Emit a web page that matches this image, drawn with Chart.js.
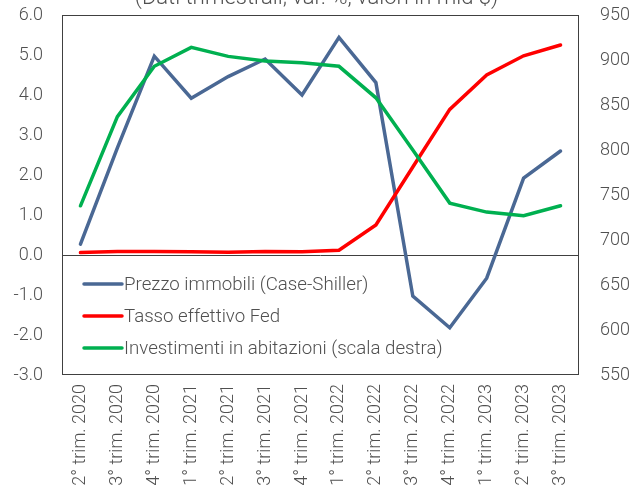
<!DOCTYPE html>
<html><head><meta charset="utf-8">
<script src="https://cdn.jsdelivr.net/npm/chart.js@4/dist/chart.umd.min.js"></script>
<style>html,body{margin:0;padding:0;background:#fff}#wrap{width:642px;height:485px}</style>
</head><body><div id="wrap"><canvas id="c" width="642" height="485"></canvas></div>
<script>
const titleText = "(Dati trimestrali; var. %, valori in mld $)";
const categories = ["2° trim. 2020","3° trim. 2020","4° trim. 2020","1° trim. 2021","2° trim. 2021","3° trim. 2021","4° trim. 2021","1° trim. 2022","2° trim. 2022","3° trim. 2022","4° trim. 2022","1° trim. 2023","2° trim. 2023","3° trim. 2023"];
const seriesNames = ["Prezzo immobili (Case-Shiller)","Tasso effettivo Fed","Investimenti in abitazioni (scala destra)"];
const prezzoImmobili = [0.27, 2.68, 4.97, 3.92, 4.46, 4.90, 4.00, 5.44, 4.31, -1.03, -1.82, -0.58, 1.92, 2.60];
const tassoFed = [0.06, 0.09, 0.09, 0.08, 0.07, 0.09, 0.08, 0.12, 0.75, 2.20, 3.64, 4.50, 4.98, 5.25];
const investimenti = [738, 837, 893, 914, 904, 899, 897, 893, 858, 800, 741, 731, 727, 738];
const leftTicks = {min: -3, max: 6, step: 1};
const rightTicks = {min: 550, max: 950, step: 50};

const colors = ["#4A6894", "#FF0000", "#00B050"];
const axisColor = "#404040";
const textColor = "#505050";
const font = {family: "Roboto", size: 18, weight: "300"};

const frame = {
  id: "frame",
  afterDraw(chart) {
    const {ctx, chartArea: a} = chart;
    ctx.save();
    ctx.strokeStyle = axisColor;
    ctx.lineWidth = 1;
    ctx.strokeRect(a.left + 0.5, a.top + 0.5, a.right - a.left - 1, a.bottom - a.top - 1);
    ctx.fillStyle = textColor;
    ctx.font = "300 22px Roboto";
    ctx.textAlign = "center";
    ctx.textBaseline = "alphabetic";
    ctx.fillText(titleText, 316.5, 4);
    ctx.textAlign = "left";
    ctx.textBaseline = "middle";
    ctx.font = "300 18.7px Roboto";
    const ys = [284, 316, 348];
    chart.data.datasets.forEach((ds, i) => {
      ctx.strokeStyle = ds.borderColor;
      ctx.lineWidth = 3.5;
      ctx.lineCap = "round";
      ctx.beginPath();
      ctx.moveTo(84, ys[i]);
      ctx.lineTo(122, ys[i]);
      ctx.stroke();
      ctx.fillStyle = textColor;
      ctx.fillText(ds.label, 124, ys[i] + 1);
    });
    ctx.restore();
  }
};

function noPad(s) { s.paddingTop = 0; s.paddingBottom = 0; s.paddingLeft = 0; s.paddingRight = 0; }

new Chart(document.getElementById("c"), {
  type: "line",
  data: {
    labels: categories,
    datasets: [
      {label: seriesNames[0], data: prezzoImmobili, yAxisID: "y", borderColor: colors[0], order: 3},
      {label: seriesNames[1], data: tassoFed, yAxisID: "y", borderColor: colors[1], order: 2},
      {label: seriesNames[2], data: investimenti, yAxisID: "y1", borderColor: colors[2], order: 1}
    ].map(d => Object.assign(d, {borderWidth: 3.5, pointRadius: 0, tension: 0, fill: false, borderCapStyle: "round"}))
  },
  options: {
    responsive: false,
    animation: false,
    devicePixelRatio: 1,
    layout: {padding: {top: 15, left: 0, right: 0, bottom: 0}},
    plugins: {legend: {display: false}, tooltip: {enabled: false}, title: {display: false}},
    scales: {
      x: {
        offset: true,
        grid: {display: false, drawTicks: false},
        border: {display: false},
        ticks: {font, color: textColor, minRotation: 90, maxRotation: 90, padding: 9, autoSkip: false},
        afterFit(s) { s.height = 110; noPad(s); }
      },
      y: {
        position: "left",
        min: leftTicks.min, max: leftTicks.max,
        grid: {drawTicks: false, drawOnChartArea: true, color: c => c.tick && c.tick.value === 0 ? axisColor : "rgba(0,0,0,0)", lineWidth: 1},
        border: {display: false},
        ticks: {stepSize: leftTicks.step, font, color: textColor, padding: 19, callback: v => v.toFixed(1)},
        afterFit(s) { s.width = 62; noPad(s); }
      },
      y1: {
        position: "right",
        min: rightTicks.min, max: rightTicks.max,
        grid: {display: false, drawTicks: false},
        border: {display: false},
        ticks: {stepSize: rightTicks.step, font, color: textColor, padding: 21},
        afterFit(s) { s.width = 63; noPad(s); }
      }
    }
  },
  plugins: [frame]
});
</script></body></html>
